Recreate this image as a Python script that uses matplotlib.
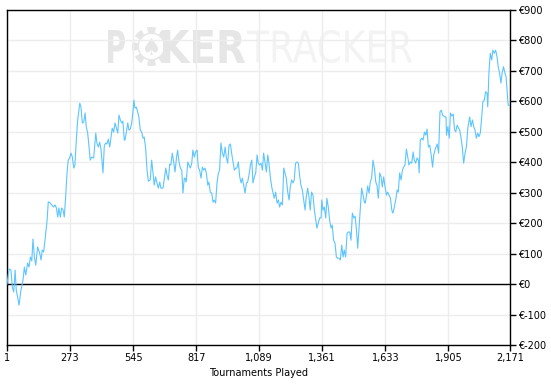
## cumulative winnings graph, poker tracker style
import numpy as np
import matplotlib
matplotlib.use('Agg')
import matplotlib.pyplot as plt
from matplotlib.textpath import TextPath
from matplotlib.font_manager import FontProperties
from matplotlib.patches import PathPatch, Circle, Wedge
from matplotlib.transforms import Affine2D
from matplotlib.ticker import FuncFormatter

## data: tournament number and cumulative profit (EUR)
tournaments = [
    1, 10, 18, 24, 30, 36, 41, 53, 61, 70, 76, 82, 90, 96, 102, 108, 113, 119,
    125, 133, 142, 148, 153, 159, 165, 174, 179, 188, 194, 202, 208, 214, 220,
    225, 231, 237, 243, 248, 254, 260, 265, 271, 277, 283, 289, 294, 300, 306,
    315, 320, 326, 332, 338, 343, 349, 355, 360, 366, 375, 384, 389, 395, 401,
    407, 415, 421, 427, 432, 438, 444, 450, 455, 461, 467, 473, 479, 484, 490,
    496, 501, 507, 510, 516, 522, 527, 533, 539, 545, 548, 553, 559, 565, 570,
    576, 582, 588, 593, 599, 605, 611, 619, 625, 631, 636, 642, 648, 654, 660,
    665, 674, 680, 686, 691, 697, 703, 708, 714, 720, 726, 732, 737, 743, 749,
    755, 760, 766, 769, 774, 781, 786, 792, 798, 803, 809, 815, 821, 826, 832,
    838, 844, 850, 855, 861, 867, 872, 878, 884, 890, 895, 901, 907, 913, 918,
    924, 930, 936, 942, 947, 953, 959, 965, 970, 976, 982, 988, 993, 999, 1005,
    1011, 1016, 1022, 1028, 1034, 1039, 1045, 1051, 1057, 1062, 1068, 1074,
    1080, 1085, 1091, 1097, 1103, 1108, 1114, 1120, 1126, 1131, 1137, 1143,
    1149, 1154, 1160, 1166, 1172, 1177, 1183, 1189, 1195, 1200, 1206, 1212,
    1218, 1223, 1229, 1235, 1240, 1246, 1252, 1258, 1263, 1269, 1275, 1281,
    1287, 1292, 1298, 1304, 1309, 1315, 1321, 1327, 1333, 1338, 1344, 1350,
    1356, 1359, 1364, 1370, 1376, 1381, 1387, 1393, 1399, 1404, 1410, 1416,
    1422, 1428, 1433, 1439, 1445, 1451, 1456, 1462, 1468, 1474, 1480, 1485,
    1491, 1497, 1503, 1508, 1514, 1520, 1526, 1531, 1537, 1543, 1546, 1551,
    1557, 1563, 1568, 1574, 1580, 1586, 1592, 1597, 1603, 1609, 1615, 1620,
    1626, 1632, 1638, 1643, 1649, 1655, 1661, 1666, 1672, 1678, 1684, 1689,
    1695, 1701, 1707, 1712, 1718, 1724, 1730, 1735, 1741, 1747, 1753, 1758,
    1764, 1770, 1776, 1779, 1784, 1790, 1796, 1802, 1808, 1813, 1819, 1825,
    1831, 1837, 1842, 1849, 1857, 1863, 1869, 1875, 1880, 1889, 1895, 1897,
    1903, 1909, 1914, 1920, 1926, 1932, 1937, 1943, 1949, 1954, 1960, 1965,
    1971, 1977, 1983, 1989, 1997, 2003, 2009, 2015, 2020, 2026, 2032, 2037,
    2043, 2049, 2054, 2060, 2066, 2072, 2075, 2080, 2086, 2092, 2097, 2103,
    2109, 2115, 2120, 2126, 2132, 2137, 2143, 2149, 2154, 2163, 2171,
]
profit = [
    0, 50, 46, -10, -26, 46, -20, -69, -20, 13, 56, 30, 69, 56, 89, 76, 148, 89,
    62, 122, 102, 79, 112, 105, 145, 210, 270, 266, 260, 253, 260, 250, 220,
    250, 220, 250, 243, 220, 286, 365, 407, 414, 430, 417, 381, 391, 473, 539,
    594, 581, 529, 532, 562, 516, 496, 450, 407, 417, 414, 496, 463, 450, 466,
    440, 365, 456, 463, 460, 476, 450, 483, 512, 499, 529, 512, 496, 555, 539,
    529, 535, 473, 473, 499, 529, 506, 509, 529, 571, 604, 578, 581, 565, 548,
    506, 499, 479, 483, 447, 374, 338, 342, 407, 365, 325, 352, 332, 315, 335,
    315, 315, 348, 381, 358, 342, 394, 391, 430, 401, 368, 414, 440, 401, 381,
    374, 299, 348, 348, 335, 401, 391, 381, 397, 440, 417, 434, 440, 384, 374,
    348, 384, 374, 381, 365, 325, 335, 302, 299, 269, 276, 266, 332, 365, 374,
    463, 430, 417, 450, 417, 397, 456, 460, 430, 401, 374, 381, 381, 401, 352,
    332, 348, 325, 299, 332, 335, 358, 391, 407, 332, 352, 365,
    424, 397, 391, 397, 374, 430, 401, 368, 424, 397, 352, 319,
    299, 282, 302, 266, 276, 253, 269, 260, 381, 365, 348, 302,
    276, 319, 342, 332, 342, 397, 401, 397, 358, 325, 309, 276,
    243, 286, 315, 286, 243, 302, 292, 243, 210, 184, 200, 217,
    217, 276, 243, 253, 217, 282, 253, 210, 184, 194, 144, 135,
    89, 85, 85, 79, 128, 89, 112, 89, 167, 171, 171, 144,
    233, 217, 223, 184, 118, 187, 253, 315, 292, 269, 266, 286,
    322, 299, 335, 348, 407, 381, 335, 325, 282, 365, 352, 319,
    352, 319, 292, 302, 292, 282, 243, 233, 253, 276, 309, 302,
    365, 342, 374, 384, 391, 443, 417, 391, 401, 397, 434, 407,
    397, 414, 407, 365, 473, 479, 473, 499, 489, 509, 450, 456,
    424, 384, 424, 445, 460, 430, 566, 571, 555, 549, 549, 489,
    517, 479, 562, 552, 558, 506, 500, 522, 512, 506, 479, 451,
    397, 430, 451, 512, 549, 517, 539, 516, 506, 479, 496, 484,
    496, 549, 599, 604, 632, 627, 582, 693, 758, 736, 768, 758,
    768, 747, 714, 693, 660, 693, 714, 693, 681, 588, 585,
]

x_ticks = [1, 273, 545, 817, 1089, 1361, 1633, 1905, 2171]
y_ticks = [-200, -100, 0, 100, 200, 300, 400, 500, 600, 700, 800, 900]
x_label = 'Tournaments Played'

line_color = '#5cc5ff'
grid_color = '#ededed'

W, H = 551, 387
fig = plt.figure(figsize=(W / 100, H / 100), dpi=100)

## overlay in pixel units for the watermark (drawn behind the chart)
bg = fig.add_axes([0, 0, 1, 1])
bg.set_xlim(0, W)
bg.set_ylim(0, H)
bg.axis('off')
bg.set_zorder(0)


def fit_text(s, x0, x1, ytop, ybot, color, weight='bold'):
    ## draw a string as a path stretched into the given pixel box
    tp = TextPath((0, 0), s, size=1, prop=FontProperties(family='DejaVu Sans', weight=weight))
    bb = tp.get_extents()
    y0, y1 = H - ybot, H - ytop
    tr = (Affine2D().translate(-bb.x0, -bb.y0)
          .scale((x1 - x0) / bb.width, (y1 - y0) / bb.height)
          .translate(x0, y0))
    bg.add_patch(PathPatch(tr.transform_path(tp), facecolor=color, lw=0))


wm_dark = '#e6e6e6'
wm_light = '#f3f3f3'
fit_text('P', 108, 125, 30, 63, wm_dark)
## poker chip in place of the O
cx, cy, r = 151.5, H - 46.5, 19.5
bg.add_patch(Circle((cx, cy), r, facecolor=wm_dark, lw=0))
for a in range(0, 360, 45):
    bg.add_patch(Wedge((cx, cy), r + 0.5, a + 22.5 - 9, a + 22.5 + 9, width=6, facecolor='white', lw=0))
bg.add_patch(Circle((cx, cy), 12.5, facecolor='white', lw=0))
fit_text('\u2660', cx - 6.5, cx + 6.5, 38, 55, wm_dark)
fit_text('KER', 163, 245, 30, 63, wm_dark)
fit_text('TRACKER', 247, 412, 30, 63, wm_light, weight='normal')

## main chart
ax = fig.add_axes([7 / W, 1 - 345 / H, 503 / W, 335 / H])
ax.patch.set_visible(False)
ax.set_zorder(1)

ax.plot(tournaments, profit, color=line_color, lw=0.8, zorder=3)
ax.axhline(0, color='black', lw=1, zorder=2)

ax.set_xlim(1, 2171)
ax.set_ylim(-200, 900)
ax.set_xticks(x_ticks)
ax.set_yticks(y_ticks)
ax.xaxis.set_major_formatter(FuncFormatter(lambda v, p: f'{int(v):,}'))
ax.yaxis.set_major_formatter(FuncFormatter(lambda v, p: f'\u20ac{int(v)}'))
ax.yaxis.tick_right()
ax.tick_params(axis='both', length=4, width=1, color='black', labelsize=7, pad=2)
ax.grid(True, color=grid_color, lw=1, zorder=0)
ax.set_axisbelow(True)
for sp in ax.spines.values():
    sp.set_color('black')
    sp.set_linewidth(1)
ax.set_xlabel(x_label, fontsize=7, labelpad=3)

fig.savefig('out.png', dpi=100)
